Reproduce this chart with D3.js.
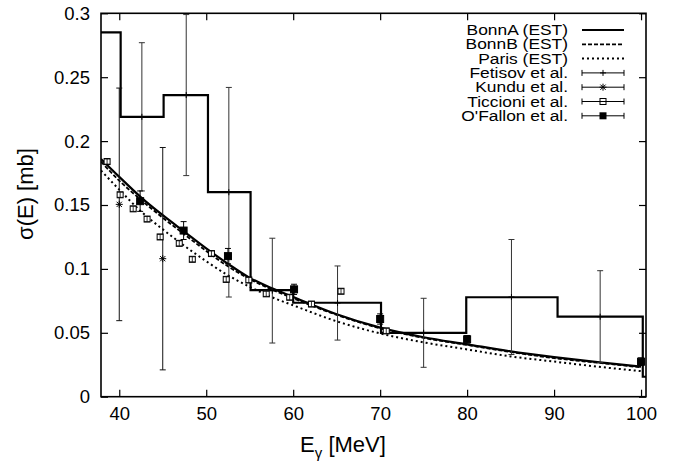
<!DOCTYPE html>
<html>
<head>
<meta charset="utf-8">
<script src="https://cdn.jsdelivr.net/npm/d3@7"></script>
<style>
  body { margin: 0; background: #fff; }
  text { font-family: "Liberation Sans", Arial, Helvetica, sans-serif; fill: #000; }
</style>
</head>
<body>
<svg id="chart" width="684" height="465"></svg>
<script>
// Data
var curveE = [37.9, 40, 42.5, 45, 47.5, 50, 52.5, 55, 57.5, 60, 65, 70, 75, 80, 85, 90, 95, 100];
var bonnA  = [0.186, 0.172, 0.156, 0.142, 0.129, 0.116, 0.104, 0.093, 0.085, 0.078, 0.0645, 0.054, 0.0465, 0.041, 0.0355, 0.031, 0.027, 0.0235];
var bonnB  = [0.184, 0.169, 0.154, 0.140, 0.127, 0.114, 0.102, 0.092, 0.084, 0.077, 0.064, 0.0535, 0.046, 0.0405, 0.035, 0.0302, 0.0266, 0.023];
var paris  = [0.177, 0.162, 0.145, 0.131, 0.118, 0.106, 0.095, 0.086, 0.078, 0.0715, 0.059, 0.0495, 0.0425, 0.037, 0.0315, 0.0275, 0.0235, 0.020];

// BonnA histogram (bin edges and heights)
var histEdges  = [37.9, 40.16, 45.1, 50.2, 55.1, 60, 70.1, 79.9, 90.4, 100.2, 100.57];
var histValues = [0.285, 0.219, 0.236, 0.160, 0.0834, 0.0735, 0.050, 0.0778, 0.0626, 0.0156];

// experimental data: energy, value, error
var fetisovE   = [42.6, 47.7, 52.6, 57.6, 65.1, 75.0, 85.1, 95.3];
var fetisovY   = [0.219, 0.236, 0.160, 0.083, 0.0733, 0.050, 0.078, 0.0626];
var fetisovErr = [0.058, 0.063, 0.082, 0.041, 0.029, 0.027, 0.045, 0.036];

var kunduE   = [40.0, 45.0];
var kunduY   = [0.1505, 0.108];
var kunduErr = [0.091, 0.087];

var ticcE = [38.6, 40.1, 41.6, 43.2, 44.7, 46.9, 48.4, 50.6, 52.3, 54.9, 56.9, 59.6, 62.1, 65.5, 70.7];
var ticcY = [0.184, 0.158, 0.147, 0.139, 0.125, 0.120, 0.1075, 0.112, 0.0918, 0.0913, 0.0805, 0.0778, 0.0725, 0.0825, 0.0515];
var ticcErr = [0.002, 0.002, 0.002, 0.002, 0.002, 0.002, 0.002, 0.002, 0.002, 0.002, 0.002, 0.002, 0.002, 0.002, 0.002];

var ofallonE   = [42.4, 47.4, 52.5, 60.1, 70.0, 80.0, 100.0];
var ofallonY   = [0.153, 0.130, 0.110, 0.084, 0.0608, 0.0449, 0.0274];
var ofallonErr = [0.008, 0.007, 0.006, 0.004, 0.004, 0.003, 0.003];

var xTicks = [40, 50, 60, 70, 80, 90, 100];
var yTicks = [0, 0.05, 0.1, 0.15, 0.2, 0.25, 0.3];

var legendLabels = ["BonnA (EST)", "BonnB (EST)", "Paris (EST)", "Fetisov et al.", "Kundu et al.", "Ticcioni et al.", "O'Fallon et al."];

// Layout
var svg = d3.select("#chart");
var plotLeft = 101, plotRight = 646, plotTop = 13.3, plotBottom = 396.7;

var x = d3.scaleLinear().domain([37.9, 100.57]).range([plotLeft, plotRight]);
var y = d3.scaleLinear().domain([0, 0.3]).range([plotBottom, plotTop]);

var defs = svg.append("defs");
defs.append("clipPath").attr("id", "plot")
  .append("rect").attr("x", plotLeft).attr("y", plotTop).attr("width", plotRight - plotLeft).attr("height", plotBottom - plotTop);

// Axes (gnuplot style: inward ticks mirrored on all sides)
var tickLen = 7;
var gx = svg.append("g").attr("transform", "translate(0," + plotBottom + ")")
  .call(d3.axisBottom(x).tickValues(xTicks).tickSizeInner(-tickLen).tickSizeOuter(0).tickPadding(10));
var gy = svg.append("g").attr("transform", "translate(" + plotLeft + ",0)")
  .call(d3.axisLeft(y).tickValues(yTicks).tickSizeInner(-tickLen).tickSizeOuter(0).tickPadding(11)
    .tickFormat(d3.format("~g")));
var gt = svg.append("g").attr("transform", "translate(0," + plotTop + ")")
  .call(d3.axisTop(x).tickValues(xTicks).tickSizeInner(-tickLen).tickSizeOuter(0).tickFormat(""));
var gr = svg.append("g").attr("transform", "translate(" + plotRight + ",0)")
  .call(d3.axisRight(y).tickValues(yTicks).tickSizeInner(-tickLen).tickSizeOuter(0).tickFormat(""));

[gx, gy, gt, gr].forEach(function(g) {
  g.select(".domain").remove();
  g.selectAll(".tick line").attr("stroke", "#000").attr("stroke-width", 1.2);
  g.selectAll(".tick text").attr("font-size", 18.5).attr("font-family", "Liberation Sans, Arial, sans-serif").attr("fill", "#000");
});

svg.append("rect")
  .attr("x", plotLeft).attr("y", plotTop).attr("width", plotRight - plotLeft).attr("height", plotBottom - plotTop)
  .attr("fill", "none").attr("stroke", "#000").attr("stroke-width", 1.6);

// Axis titles
var xl = svg.append("text").attr("x", 343).attr("y", 452).attr("text-anchor", "middle").attr("font-size", 22);
xl.append("tspan").text("E");
xl.append("tspan").attr("font-size", 15).attr("dy", 6).text("γ");
xl.append("tspan").attr("dy", -6).text(" [MeV]");

svg.append("text")
  .attr("transform", "translate(33,194) rotate(-90)")
  .attr("text-anchor", "middle").attr("font-size", 22)
  .text("σ(E) [mb]");

var plot = svg.append("g").attr("clip-path", "url(#plot)");

// Histogram
var histPts = histValues.map(function(v, i) { return [histEdges[i], v]; });
histPts.push([histEdges[histEdges.length - 1], histValues[histValues.length - 1]]);
plot.append("path")
  .attr("d", d3.line().x(function(d) { return x(d[0]); }).y(function(d) { return y(d[1]); }).curve(d3.curveStepAfter)(histPts))
  .attr("fill", "none").attr("stroke", "#000").attr("stroke-width", 2.2);

// Theory curves
var curveLine = d3.line()
  .x(function(d, i) { return x(curveE[i]); })
  .y(function(d) { return y(d); })
  .curve(d3.curveMonotoneX);

var curveStyles = [
  { data: bonnA, dash: null, w: 2.2 },
  { data: bonnB, dash: "4,2", w: 1.8 },
  { data: paris, dash: "2,3", w: 2 }
];
curveStyles.forEach(function(c) {
  plot.append("path").attr("d", curveLine(c.data))
    .attr("fill", "none").attr("stroke", "#000").attr("stroke-width", c.w)
    .attr("stroke-dasharray", c.dash);
});

// Error bars
function errorBars(E, Y, Err, color, width) {
  var g = plot.append("g").attr("stroke", color).attr("stroke-width", width).attr("fill", "none");
  E.forEach(function(e, i) {
    var cx = x(e), y1 = y(Y[i] + Err[i]), y0 = y(Y[i] - Err[i]);
    g.append("line").attr("x1", cx).attr("x2", cx).attr("y1", y1).attr("y2", y0);
    g.append("line").attr("x1", cx - 3).attr("x2", cx + 3).attr("y1", y1).attr("y2", y1);
    g.append("line").attr("x1", cx - 3).attr("x2", cx + 3).attr("y1", y0).attr("y2", y0);
  });
  return g;
}

function plusMark(g, cx, cy) {
  g.append("path").attr("d", "M" + (cx - 3) + "," + cy + "H" + (cx + 3) + "M" + cx + "," + (cy - 3) + "V" + (cy + 3))
    .attr("stroke", "#000").attr("stroke-width", 1);
}
function starMark(g, cx, cy) {
  var r = 3.5, d = r * 0.75;
  g.append("path").attr("d",
      "M" + (cx - r) + "," + cy + "H" + (cx + r) +
      "M" + cx + "," + (cy - r) + "V" + (cy + r) +
      "M" + (cx - d) + "," + (cy - d) + "L" + (cx + d) + "," + (cy + d) +
      "M" + (cx - d) + "," + (cy + d) + "L" + (cx + d) + "," + (cy - d))
    .attr("stroke", "#000").attr("stroke-width", 1);
}
function openSquare(g, cx, cy) {
  g.append("rect").attr("x", cx - 3).attr("y", cy - 3).attr("width", 6).attr("height", 6)
    .attr("fill", "#fff").attr("stroke", "#000").attr("stroke-width", 1);
}
function filledSquare(g, cx, cy) {
  g.append("rect").attr("x", cx - 3.5).attr("y", cy - 3.5).attr("width", 7).attr("height", 7)
    .attr("fill", "#000");
}

var gF = errorBars(fetisovE, fetisovY, fetisovErr, "#333", 1);
fetisovE.forEach(function(e, i) { plusMark(gF, x(e), y(fetisovY[i])); });

var gK = errorBars(kunduE, kunduY, kunduErr, "#111", 1);
kunduE.forEach(function(e, i) { starMark(gK, x(e), y(kunduY[i])); });

var gT = plot.append("g");
ticcE.forEach(function(e, i) { openSquare(gT, x(e), y(ticcY[i])); });
errorBars(ticcE, ticcY, ticcErr, "#000", 0.8);

var gO = errorBars(ofallonE, ofallonY, ofallonErr, "#000", 1);
ofallonE.forEach(function(e, i) { filledSquare(gO, x(e), y(ofallonY[i])); });

// Legend (text slightly widened, rows tight as in the figure)
var lg = svg.append("g");
var rowY = function(i) { return 30 + i * 14.3; };
var sx0 = 582, sx1 = 624;
legendLabels.forEach(function(t, i) {
  lg.append("text")
    .attr("transform", "translate(568," + (rowY(i) + 5) + ") scale(1.2,1)")
    .attr("text-anchor", "end")
    .attr("font-size", 14.5).text(t);
});
[0, 1, 2].forEach(function(i) {
  var c = curveStyles[i];
  lg.append("line").attr("x1", sx0).attr("x2", sx1).attr("y1", rowY(i)).attr("y2", rowY(i))
    .attr("stroke", "#000").attr("stroke-width", c.w).attr("stroke-dasharray", c.dash);
});
[3, 4, 5, 6].forEach(function(i) {
  var cy = rowY(i);
  lg.append("path").attr("d", "M" + sx0 + "," + cy + "H" + sx1 + "M" + sx0 + "," + (cy - 3) + "V" + (cy + 3) + "M" + sx1 + "," + (cy - 3) + "V" + (cy + 3))
    .attr("stroke", "#000").attr("stroke-width", 1).attr("fill", "none");
  var cx = (sx0 + sx1) / 2;
  if (i === 3) plusMark(lg, cx, cy);
  if (i === 4) starMark(lg, cx, cy);
  if (i === 5) { openSquare(lg, cx, cy); lg.append("line").attr("x1", cx - 3).attr("x2", cx + 3).attr("y1", cy).attr("y2", cy).attr("stroke", "#000"); }
  if (i === 6) filledSquare(lg, cx, cy);
});
</script>
</body>
</html>
